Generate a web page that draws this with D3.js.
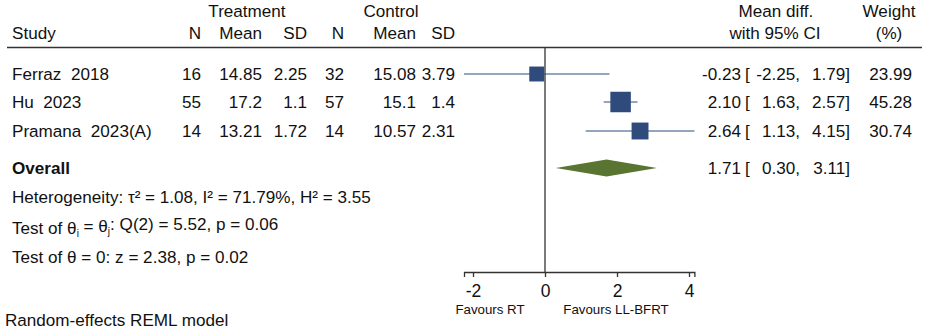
<!DOCTYPE html>
<html>
<head>
<meta charset="utf-8">
<script src="https://cdn.jsdelivr.net/npm/d3@7"></script>
<style>
  body { margin: 0; background: #fff; }
  svg text { font-family: "Liberation Sans", Arial, sans-serif; fill: #111; }
</style>
</head>
<body>
<svg id="chart" width="931" height="330"></svg>
<script>
// study rows
const studies = ["Ferraz  2018", "Hu  2023", "Pramana  2023(A)"];
const nTreat = ["16", "55", "14"];
const meanTreat = ["14.85", "17.2", "13.21"];
const sdTreat = ["2.25", "1.1", "1.72"];
const nCtrl = ["32", "57", "14"];
const meanCtrl = ["15.08", "15.1", "10.57"];
const sdCtrl = ["3.79", "1.4", "2.31"];
const meanDiff = [-0.23, 2.10, 2.64];
const ciLow = [-2.25, 1.63, 1.13];
const ciHigh = [1.79, 2.57, 4.15];
const weights = [23.99, 45.28, 30.74];

// overall estimate
const overall = { est: 1.71, lo: 0.30, hi: 3.11 };

const xTicks = [-2, 0, 2, 4];

const svg = d3.select("#chart");
const fs = 17.1;

// layout
const rowY = [74, 102, 131];
const overallY = 168;
const headerLineY = 47.5;
const axisY = 272;

const x = d3.scaleLinear()
    .domain([d3.min(ciLow), d3.max(ciHigh)])
    .range([464, 694.4]);

// plain hyphen for negatives, like the original
const loc = d3.formatLocale({ decimal: ".", thousands: ",", grouping: [3], currency: ["", ""], minus: "-" });
const fmt = loc.format(".2f");

/** helper for a piece of text */
function txt(g, s, px, py, anchor, opts) {
    opts = opts || {};
    return g.append("text")
        .attr("x", px)
        .attr("y", py)
        .attr("dy", "0.35em")
        .attr("text-anchor", anchor)
        .attr("font-size", opts.size || fs)
        .attr("font-weight", opts.weight || "normal")
        .style("white-space", "pre")
        .text(s);
}

// headers
txt(svg, "Treatment", 247, 11, "middle");
txt(svg, "Control", 391, 11, "middle");
txt(svg, "Study", 12, 33, "start");
const colRight = [201, 262, 307, 344, 416, 455];
const colHeads = ["N", "Mean", "SD", "N", "Mean", "SD"];
colHeads.forEach((h, i) => txt(svg, h, colRight[i], 33, "end"));
txt(svg, "Mean diff.", 776, 11, "middle");
txt(svg, "with 95% CI", 775, 33, "middle");
txt(svg, "Weight", 889, 11, "middle");
txt(svg, "(%)", 889, 33, "middle");

svg.append("line")
    .attr("x1", 7).attr("x2", 922)
    .attr("y1", headerLineY).attr("y2", headerLineY)
    .attr("stroke", "#333").attr("stroke-width", 1.5);

// null line
svg.append("line")
    .attr("x1", x(0)).attr("x2", x(0))
    .attr("y1", headerLineY).attr("y2", axisY)
    .attr("stroke", "#333").attr("stroke-width", 1.3);

// study rows
const cols = [nTreat, meanTreat, sdTreat, nCtrl, meanCtrl, sdCtrl];
const boxColor = "#2e4b7b";
const boxScale = d3.scaleSqrt().domain([0, d3.max(weights)]).range([0, 20.5]);

studies.forEach((s, i) => {
    const y = rowY[i];
    txt(svg, s, 12, y, "start");
    cols.forEach((c, j) => txt(svg, c[i], colRight[j], y, "end"));

    // CI whisker
    svg.append("line")
        .attr("x1", x(ciLow[i])).attr("x2", x(ciHigh[i]))
        .attr("y1", y).attr("y2", y)
        .attr("stroke", boxColor).attr("stroke-width", 1.2);
    const side = boxScale(weights[i]);
    svg.append("rect")
        .attr("x", x(meanDiff[i]) - side / 2)
        .attr("y", y - side / 2)
        .attr("width", side).attr("height", side)
        .attr("fill", boxColor);

    // effect text
    txt(svg, fmt(meanDiff[i]), 741, y, "end");
    txt(svg, "[", 745, y, "start");
    txt(svg, fmt(ciLow[i]) + ",", 800, y, "end");
    txt(svg, fmt(ciHigh[i]) + "]", 850, y, "end");
    txt(svg, fmt(weights[i]), 912, y, "end");
});

// overall
txt(svg, "Overall", 12, overallY, "start", { weight: "bold" });
svg.append("path")
    .attr("d", d3.line()([
        [x(overall.lo), overallY],
        [x(overall.est), overallY - 8.5],
        [x(overall.hi), overallY],
        [x(overall.est), overallY + 8.5]
    ]) + "Z")
    .attr("fill", "#5a7431");
txt(svg, fmt(overall.est), 741, overallY, "end");
txt(svg, "[", 745, overallY, "start");
txt(svg, fmt(overall.lo) + ",", 800, overallY, "end");
txt(svg, fmt(overall.hi) + "]", 850, overallY, "end");

// stats
txt(svg, "Heterogeneity: \u03C4\u00B2 = 1.08, I\u00B2 = 71.79%, H\u00B2 = 3.55", 12, 197, "start");
const t1 = txt(svg, "", 12, 228, "start");
t1.append("tspan").text("Test of \u03B8");
t1.append("tspan").attr("font-size", 10).attr("dy", "0.3em").text("i");
t1.append("tspan").attr("dy", "-0.3em").text(" = \u03B8");
t1.append("tspan").attr("font-size", 10).attr("dy", "0.3em").text("j");
t1.append("tspan").attr("dy", "-0.3em").text(": Q(2) = 5.52, p = 0.06");
txt(svg, "Test of \u03B8 = 0: z = 2.38, p = 0.02", 12, 257, "start");

// axis
const axis = svg.append("g")
    .attr("transform", `translate(0,${axisY})`)
    .call(d3.axisBottom(x).tickValues(xTicks).tickSize(5).tickPadding(8).tickFormat(loc.format("d")));
axis.select(".domain").attr("stroke", "#333").attr("stroke-width", 1.3);
axis.selectAll(".tick line").attr("stroke", "#333").attr("stroke-width", 1.3);
axis.selectAll(".tick text")
    .attr("font-size", 17.5)
    .attr("font-family", "Liberation Sans, Arial, sans-serif")
    .attr("fill", "#111");

txt(svg, "Favours RT", 490, 309, "middle", { size: 13.3 });
txt(svg, "Favours LL-BFRT", 616, 309, "middle", { size: 13.3 });

txt(svg, "Random-effects REML model", 5, 320, "start");
</script>
</body>
</html>
